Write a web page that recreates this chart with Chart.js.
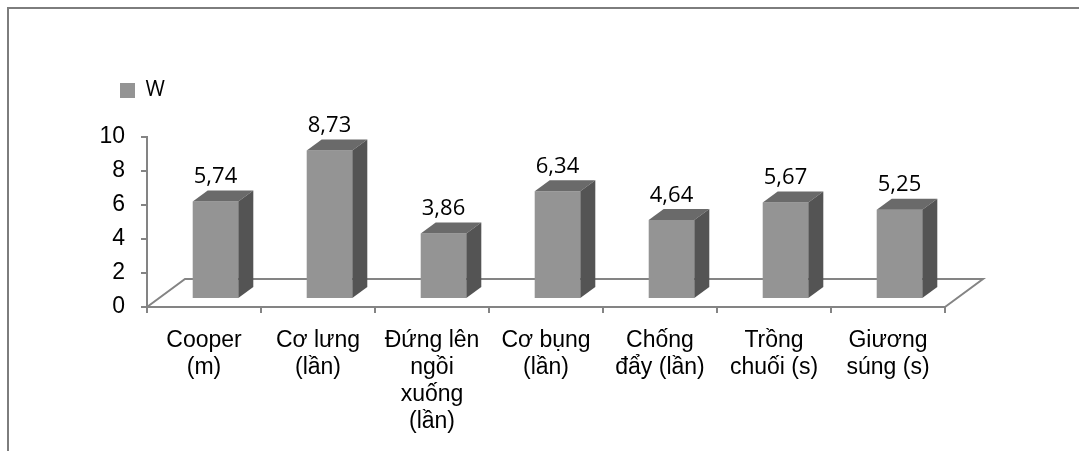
<!DOCTYPE html>
<html>
<head>
<meta charset="utf-8">
<script src="https://cdn.jsdelivr.net/npm/chart.js@4.4.1/dist/chart.umd.min.js"></script>
<style>
  html, body { margin: 0; padding: 0; background: #fff; overflow: hidden; }
  #wrap { position: relative; width: 1079px; height: 451px; }
  #wrap canvas { position: absolute; left: 0; top: 0; }
  #frame {
    position: absolute; left: 7px; top: 7px; width: 1200px; height: 600px;
    border-top: 2px solid #7d7d7d; border-left: 2px solid #7d7d7d;
    pointer-events: none;
  }
</style>
</head>
<body>
<div id="wrap">
  <canvas id="chart" width="1079" height="451"></canvas>
  <div id="frame"></div>
</div>
<script>
// Test categories (each label split into its display lines)
const categories = [
  ["Cooper", "(m)"],
  ["Cơ lưng", "(lần)"],
  ["Đứng lên", "ngồi", "xuống", "(lần)"],
  ["Cơ bụng", "(lần)"],
  ["Chống", "đẩy (lần)"],
  ["Trồng", "chuối (s)"],
  ["Giương", "súng (s)"]
];
const seriesName = "W";
const values = [5.74, 8.73, 3.86, 6.34, 4.64, 5.67, 5.25];
const yTicks = [0, 2, 4, 6, 8, 10];

// 3D look: floor depth, where the column fronts sit inside it, and column depth
const FLOOR = { dx: 38, dy: 28 };
const BAR_SHIFT = { dx: 11.5, dy: 8 };
const BAR_DEPTH = { dx: 15, dy: 11 };
const COLORS = { front: '#949494', top: '#6a6a6a', side: '#545454', axis: '#848484' };

const formatValue = v => v.toFixed(2).replace('.', ',');

const floor3d = {
  id: 'floor3d',
  beforeDatasetsDraw(chart) {
    const { ctx, chartArea: a } = chart;
    ctx.save();
    ctx.strokeStyle = COLORS.axis;
    ctx.lineWidth = 2;
    ctx.lineJoin = 'miter';
    ctx.beginPath();
    ctx.moveTo(a.left, a.bottom);
    ctx.lineTo(a.left + FLOOR.dx, a.bottom - FLOOR.dy);
    ctx.lineTo(a.right + FLOOR.dx, a.bottom - FLOOR.dy);
    ctx.lineTo(a.right, a.bottom);
    ctx.stroke();
    ctx.restore();
    // columns are drawn pushed back into the floor
    ctx.save();
    ctx.translate(BAR_SHIFT.dx, -BAR_SHIFT.dy);
  },
  afterDatasetsDraw(chart) {
    const { ctx } = chart;
    const meta = chart.getDatasetMeta(0);
    meta.data.forEach(bar => {
      const { x, y, base, width } = bar.getProps(['x', 'y', 'base', 'width'], true);
      const x0 = x - width / 2, x1 = x + width / 2;
      // top face
      ctx.fillStyle = COLORS.top;
      ctx.beginPath();
      ctx.moveTo(x0, y);
      ctx.lineTo(x1, y);
      ctx.lineTo(x1 + BAR_DEPTH.dx, y - BAR_DEPTH.dy);
      ctx.lineTo(x0 + BAR_DEPTH.dx, y - BAR_DEPTH.dy);
      ctx.closePath();
      ctx.fill();
      // side face
      ctx.fillStyle = COLORS.side;
      ctx.beginPath();
      ctx.moveTo(x1, y);
      ctx.lineTo(x1 + BAR_DEPTH.dx, y - BAR_DEPTH.dy);
      ctx.lineTo(x1 + BAR_DEPTH.dx, base - BAR_DEPTH.dy);
      ctx.lineTo(x1, base);
      ctx.closePath();
      ctx.fill();
    });
    // value labels above each column
    ctx.fillStyle = '#000';
    ctx.font = '22px "Open Sans"';
    ctx.textAlign = 'center';
    ctx.textBaseline = 'alphabetic';
    meta.data.forEach((bar, i) => {
      const { x, y } = bar.getProps(['x', 'y'], true);
      ctx.fillText(formatValue(values[i]), x, y - BAR_DEPTH.dy - 7.5);
    });
    ctx.restore();
  }
};

new Chart(document.getElementById('chart'), {
  type: 'bar',
  data: {
    labels: categories,
    datasets: [{
      label: seriesName,
      data: values,
      backgroundColor: COLORS.front,
      borderWidth: 0,
      categoryPercentage: 1,
      barPercentage: 0.4,
      clip: false
    }]
  },
  options: {
    responsive: false,
    animation: false,
    layout: { padding: { left: 96, top: 56, right: 134, bottom: 0 } },
    plugins: {
      tooltip: { enabled: false },
      legend: {
        display: true,
        position: 'top',
        align: 'start',
        weight: 3000,
        labels: {
          boxWidth: 15,
          boxHeight: 15,
          padding: 24,
          color: '#000',
          font: { family: '"Open Sans"', size: 21 }
        }
      },
      // empty title used as the gap between the legend and the plot
      title: {
        display: true,
        text: '',
        padding: 0,
        font: { size: 26, lineHeight: 1 }
      }
    },
    scales: {
      x: {
        offset: true,
        grid: {
          display: true, offset: true, drawOnChartArea: false, drawTicks: true,
          tickLength: 6, color: COLORS.axis, lineWidth: 2
        },
        border: { display: true, color: COLORS.axis, width: 2 },
        ticks: {
          color: '#000', maxRotation: 0, minRotation: 0, autoSkip: false, padding: 14,
          font: { family: '"Liberation Sans", Arial', size: 23, lineHeight: 1.17 }
        },
        afterFit(scale) { scale.height = 144; }
      },
      y: {
        min: 0,
        max: 10,
        afterBuildTicks(scale) { scale.ticks = yTicks.map(v => ({ value: v })); },
        grid: {
          display: true, drawOnChartArea: false, drawTicks: true,
          tickLength: 6, color: COLORS.axis, lineWidth: 2
        },
        border: { display: true, color: COLORS.axis, width: 2 },
        ticks: {
          color: '#000', padding: 16,
          font: { family: '"Liberation Sans", Arial', size: 23 }
        },
        afterFit(scale) { scale.width = 51; }
      }
    }
  },
  plugins: [floor3d]
});
</script>
</body>
</html>
